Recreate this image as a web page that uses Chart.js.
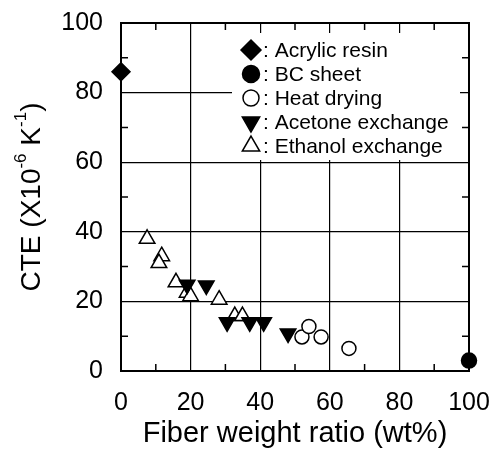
<!DOCTYPE html>
<html>
<head>
<meta charset="utf-8">
<script src="https://cdn.jsdelivr.net/npm/chart.js@4.4.0/dist/chart.umd.min.js"></script>
<style>
  body { margin: 0; background: #fff; }
  canvas { display: block; }
</style>
</head>
<body>
<canvas id="grafico" width="494" height="461"></canvas>
<script>
// datos
const acrylic_x = [0]
const acrylic_y = [86]
const bc_x = [100]
const bc_y = [3]
const heat_x = [52, 54, 57.5, 65.5]
const heat_y = [9.8, 12.8, 9.8, 6.5]
const acetone_x = [19, 24.5, 30.5, 37, 41, 48]
const acetone_y = [24.8, 24.6, 14, 14, 14, 10.8]
const ethanol_x = [7.5, 11.7, 10.9, 15.8, 19, 20, 28.2, 32.7, 34.9]
const ethanol_y = [38, 33, 31, 25.5, 22.5, 21.5, 20.5, 15.8, 15.8]
const ticks_x = [0, 20, 40, 60, 80, 100]
const ticks_y = [0, 20, 40, 60, 80, 100]
const minor = [10, 30, 50, 70, 90]
const nombres = ["Acrylic resin", "BC sheet", "Heat drying", "Acetone exchange", "Ethanol exchange"]

const fuente = "'Liberation Sans', Arial, sans-serif"

function puntos(xs, ys){
    return xs.map((x, i) => ({x: x, y: ys[i]}))
}

const estilos = [
    {pointStyle: "rectRot", radius: 9, fill: "#000", rot: 0},
    {pointStyle: "circle", radius: 7.5, fill: "#000", rot: 0},
    {pointStyle: "circle", radius: 7, fill: "#fff", rot: 0},
    {pointStyle: "triangle", radius: 9, fill: "#000", rot: 180},
    {pointStyle: "triangle", radius: 9, fill: "#fff", rot: 0}
]
const series = [
    puntos(acrylic_x, acrylic_y),
    puntos(bc_x, bc_y),
    puntos(heat_x, heat_y),
    puntos(acetone_x, acetone_y),
    puntos(ethanol_x, ethanol_y)
]

const datasets = series.map((d, i) => ({
    label: nombres[i],
    data: d,
    pointStyle: estilos[i].pointStyle,
    pointRadius: estilos[i].radius,
    pointRotation: estilos[i].rot,
    pointBackgroundColor: estilos[i].fill,
    pointBorderColor: "#000",
    pointBorderWidth: 1.5,
    clip: false
}))

// caja de leyenda dentro del grafico
const leyenda = {
    id: "leyenda",
    beforeDatasetsDraw(chart){
        const ctx = chart.ctx
        ctx.save()
        ctx.fillStyle = "#fff"
        ctx.fillRect(232, 33, 228, 127)
        ctx.font = "21px " + fuente
        ctx.fillStyle = "#000"
        ctx.textBaseline = "middle"
        for (let i = 0; i < nombres.length; i++) {
            const y = 50 + i * 24
            const e = estilos[i]
            ctx.fillStyle = e.fill
            ctx.strokeStyle = "#000"
            ctx.lineWidth = 1.5
            Chart.helpers.drawPoint(ctx, {pointStyle: e.pointStyle, rotation: e.rot, radius: e.radius + 1, borderWidth: 1.5}, 251, y)
            ctx.fillStyle = "#000"
            ctx.fillText(": " + nombres[i], 263, y + 1)
        }
        ctx.restore()
    },
    afterDraw(chart){
        const ctx = chart.ctx
        const a = chart.chartArea
        const sx = chart.scales.x
        const sy = chart.scales.y
        ctx.save()
        ctx.strokeStyle = "#000"
        ctx.lineWidth = 2
        ctx.strokeRect(a.left, a.top, a.right - a.left, a.bottom - a.top)
        ctx.lineWidth = 1.5
        ctx.beginPath()
        minor.forEach(v => {
            const px = sx.getPixelForValue(v)
            ctx.moveTo(px, a.bottom); ctx.lineTo(px, a.bottom - 7)
            ctx.moveTo(px, a.top); ctx.lineTo(px, a.top + 7)
            const py = sy.getPixelForValue(v)
            ctx.moveTo(a.left, py); ctx.lineTo(a.left + 7, py)
            ctx.moveTo(a.right, py); ctx.lineTo(a.right - 7, py)
        })
        ctx.stroke()
        // titulo del eje y con superindices
        ctx.translate(32, (a.top + a.bottom) / 2)
        ctx.rotate(-Math.PI / 2)
        ctx.textBaseline = "middle"
        const partes = [["CTE (X10", false], ["-6", true], [" K", false], ["-1", true], [")", false]]
        let ancho = 0
        partes.forEach(p => {
            ctx.font = (p[1] ? "17px " : "28px ") + fuente
            ancho += ctx.measureText(p[0]).width
        })
        let x = -ancho / 2
        partes.forEach(p => {
            ctx.font = (p[1] ? "17px " : "28px ") + fuente
            ctx.fillText(p[0], x, p[1] ? -11 : 0)
            x += ctx.measureText(p[0]).width
        })
        ctx.restore()
    }
}

const config = {
    type: "scatter",
    data: { datasets: datasets },
    options: {
        responsive: false,
        animation: false,
        devicePixelRatio: 1,
        layout: { padding: { top: 23, right: 25, left: 0, bottom: 0 } },
        plugins: { legend: { display: false }, tooltip: { enabled: false } },
        scales: {
            x: {
                type: "linear",
                min: 0, max: 100,
                afterFit(s){ s.height = 90; s.paddingLeft = 0; s.paddingRight = 0 },
                afterBuildTicks(s){ s.ticks = ticks_x.map(v => ({value: v})) },
                grid: { color: "#000", lineWidth: 1.2, drawTicks: false },
                border: { display: false },
                ticks: { color: "#000", padding: 17, maxRotation: 0, font: { family: fuente, size: 25 } },
                title: { display: true, text: "Fiber weight ratio (wt%)", color: "#000", padding: { top: 0, bottom: 10 }, font: { family: fuente, size: 29 } }
            },
            y: {
                type: "linear",
                min: 0, max: 100,
                afterFit(s){ s.width = 121; s.paddingTop = 0; s.paddingBottom = 0 },
                afterBuildTicks(s){ s.ticks = ticks_y.map(v => ({value: v})) },
                grid: { color: "#000", lineWidth: 1.2, drawTicks: false },
                border: { display: false },
                ticks: { color: "#000", padding: 18, font: { family: fuente, size: 25 } }
            }
        }
    },
    plugins: [leyenda]
}

new Chart(document.getElementById("grafico"), config)
</script>
</body>
</html>
